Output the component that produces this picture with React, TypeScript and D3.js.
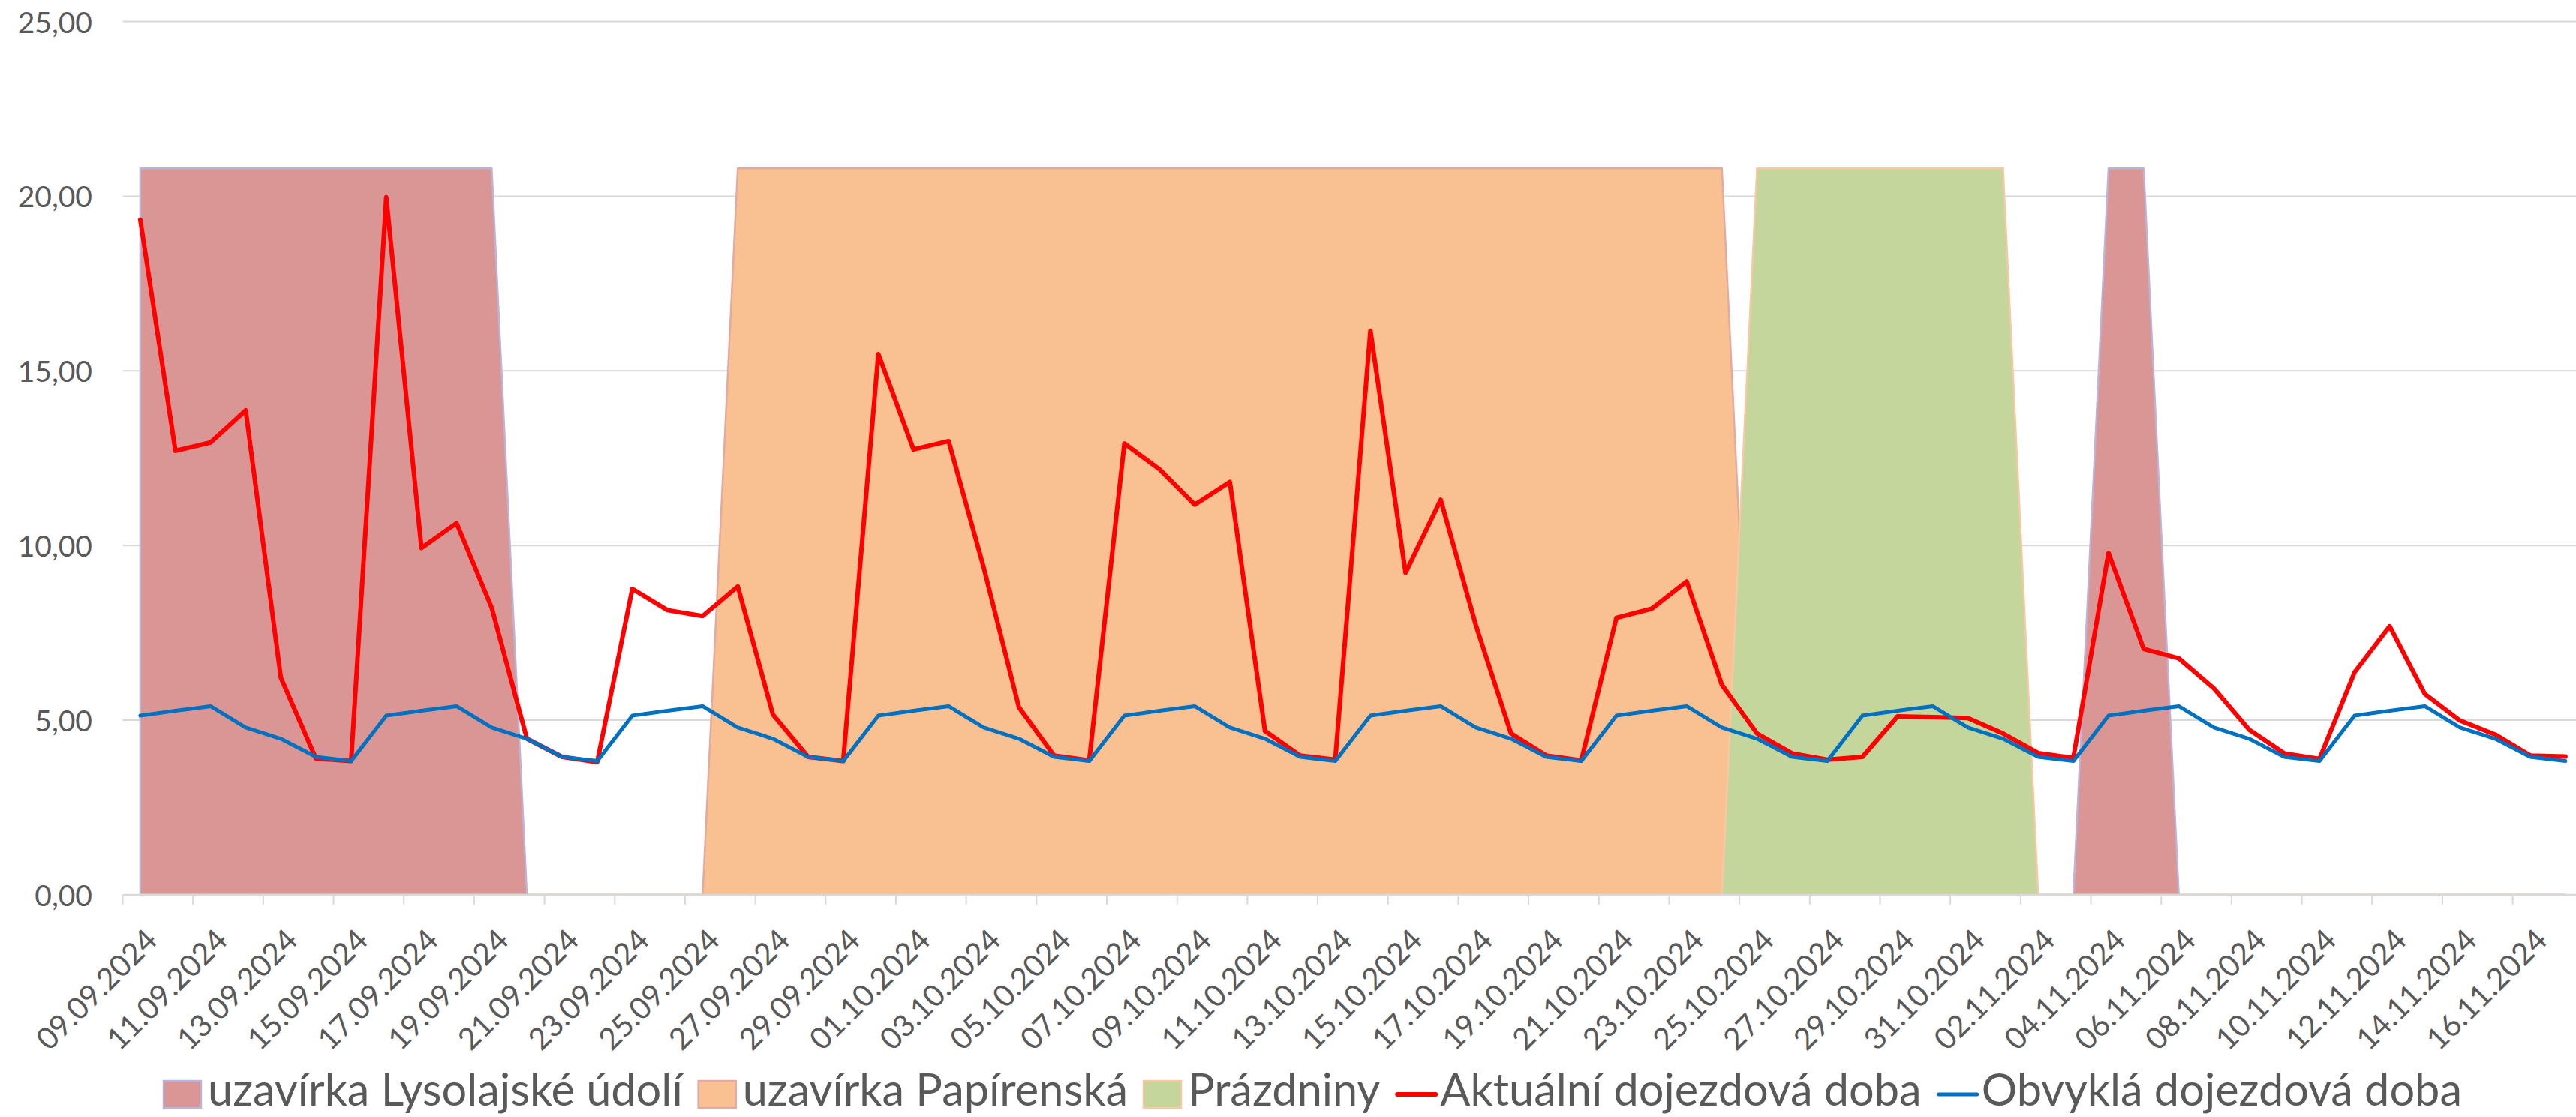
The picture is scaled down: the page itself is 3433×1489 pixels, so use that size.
import React, { useEffect, useRef } from "react"
import * as d3 from "d3"

// categories (one per day)
const DATES = [
    "09.09.2024", "10.09.2024", "11.09.2024", "12.09.2024", "13.09.2024", "14.09.2024", "15.09.2024",
    "16.09.2024", "17.09.2024", "18.09.2024", "19.09.2024", "20.09.2024", "21.09.2024", "22.09.2024",
    "23.09.2024", "24.09.2024", "25.09.2024", "26.09.2024", "27.09.2024", "28.09.2024", "29.09.2024",
    "30.09.2024", "01.10.2024", "02.10.2024", "03.10.2024", "04.10.2024", "05.10.2024", "06.10.2024",
    "07.10.2024", "08.10.2024", "09.10.2024", "10.10.2024", "11.10.2024", "12.10.2024", "13.10.2024",
    "14.10.2024", "15.10.2024", "16.10.2024", "17.10.2024", "18.10.2024", "19.10.2024", "20.10.2024",
    "21.10.2024", "22.10.2024", "23.10.2024", "24.10.2024", "25.10.2024", "26.10.2024", "27.10.2024",
    "28.10.2024", "29.10.2024", "30.10.2024", "31.10.2024", "01.11.2024", "02.11.2024", "03.11.2024",
    "04.11.2024", "05.11.2024", "06.11.2024", "07.11.2024", "08.11.2024", "09.11.2024", "10.11.2024",
    "11.11.2024", "12.11.2024", "13.11.2024", "14.11.2024", "15.11.2024", "16.11.2024", "17.11.2024",
]

const AKTUALNI = [
    19.33, 12.71, 12.95, 13.87, 6.22, 3.9, 3.83,
    19.97, 9.93, 10.64, 8.22, 4.47, 3.95, 3.8,
    8.76, 8.15, 7.98, 8.83, 5.16, 3.95, 3.83,
    15.48, 12.75, 12.99, 9.36, 5.37, 3.99, 3.85,
    12.92, 12.18, 11.17, 11.82, 4.69, 3.99, 3.87,
    16.15, 9.22, 11.31, 7.72, 4.62, 3.99, 3.85,
    7.93, 8.19, 8.97, 6.01, 4.62, 4.05, 3.87,
    3.95, 5.11, 5.09, 5.06, 4.62, 4.06, 3.92,
    9.79, 7.04, 6.77, 5.91, 4.73, 4.05, 3.89,
    6.37, 7.69, 5.75, 4.99, 4.59, 3.99, 3.96,
]

const OBVYKLA = [
    5.13, 5.27, 5.4, 4.79, 4.47, 3.95, 3.83,
    5.13, 5.27, 5.4, 4.79, 4.47, 3.95, 3.83,
    5.13, 5.27, 5.4, 4.79, 4.47, 3.95, 3.83,
    5.13, 5.27, 5.4, 4.79, 4.47, 3.95, 3.83,
    5.13, 5.27, 5.4, 4.79, 4.47, 3.95, 3.83,
    5.13, 5.27, 5.4, 4.79, 4.47, 3.95, 3.83,
    5.13, 5.27, 5.4, 4.79, 4.47, 3.95, 3.83,
    5.13, 5.27, 5.4, 4.79, 4.47, 3.95, 3.83,
    5.13, 5.27, 5.4, 4.79, 4.47, 3.95, 3.83,
    5.13, 5.27, 5.4, 4.79, 4.47, 3.95, 3.83,
]

const LYSOLAJSKE = [
    20.8, 20.8, 20.8, 20.8, 20.8, 20.8, 20.8,
    20.8, 20.8, 20.8, 20.8, 0, 0, 0,
    0, 0, 0, 0, 0, 0, 0,
    0, 0, 0, 0, 0, 0, 0,
    0, 0, 0, 0, 0, 0, 0,
    0, 0, 0, 0, 0, 0, 0,
    0, 0, 0, 0, 0, 0, 0,
    0, 0, 0, 0, 0, 0, 0,
    20.8, 20.8, 0, 0, 0, 0, 0,
    0, 0, 0, 0, 0, 0, 0,
]

const PAPIRENSKA = [
    0, 0, 0, 0, 0, 0, 0,
    0, 0, 0, 0, 0, 0, 0,
    0, 0, 0, 20.8, 20.8, 20.8, 20.8,
    20.8, 20.8, 20.8, 20.8, 20.8, 20.8, 20.8,
    20.8, 20.8, 20.8, 20.8, 20.8, 20.8, 20.8,
    20.8, 20.8, 20.8, 20.8, 20.8, 20.8, 20.8,
    20.8, 20.8, 20.8, 20.8, 0, 0, 0,
    0, 0, 0, 0, 0, 0, 0,
    0, 0, 0, 0, 0, 0, 0,
    0, 0, 0, 0, 0, 0, 0,
]

const PRAZDNINY = [
    0, 0, 0, 0, 0, 0, 0,
    0, 0, 0, 0, 0, 0, 0,
    0, 0, 0, 0, 0, 0, 0,
    0, 0, 0, 0, 0, 0, 0,
    0, 0, 0, 0, 0, 0, 0,
    0, 0, 0, 0, 0, 0, 0,
    0, 0, 0, 0, 20.8, 20.8, 20.8,
    20.8, 20.8, 20.8, 20.8, 20.8, 0, 0,
    0, 0, 0, 0, 0, 0, 0,
    0, 0, 0, 0, 0, 0, 0,
]

const Y_TICKS = [0, 5, 10, 15, 20, 25]

const AREAS = [
    { name: "uzavírka Lysolajské údolí", values: LYSOLAJSKE, fill: "#d99694", stroke: "#bcb3d8" },
    { name: "uzavírka Papírenská", values: PAPIRENSKA, fill: "#f9c091", stroke: "#e2aaa0" },
    { name: "Prázdniny", values: PRAZDNINY, fill: "#c4d69c", stroke: "#f6c9a2" },
]

const LINES = [
    { name: "Aktuální dojezdová doba", values: AKTUALNI, color: "#ff0000", width: 6 },
    { name: "Obvyklá dojezdová doba", values: OBVYKLA, color: "#0070c0", width: 5 },
]

const W = 3433
const H = 1489
const FONT = "Lato, 'Open Sans', sans-serif"
const TEXT = "#595959"

export default function App() {
    const ref = useRef<SVGSVGElement>(null)

    useEffect(() => {
        if (!ref.current) return
        const svg = d3.select(ref.current)
        svg.selectAll("*").remove()

        const left = 163.5
        const band = 46.84
        const x = d3
            .scaleBand()
            .domain(DATES)
            .range([left, left + band * DATES.length])
            .padding(0)
        const cx = (i: number) => (x(DATES[i]) as number) + x.bandwidth() / 2
        const y = d3.scaleLinear().domain([0, 25]).range([1193, 28.5])

        // horizontal gridlines
        svg.append("g")
            .selectAll("line")
            .data(Y_TICKS.filter((t) => t > 0))
            .join("line")
            .attr("x1", left)
            .attr("x2", W)
            .attr("y1", (d) => y(d))
            .attr("y2", (d) => y(d))
            .attr("stroke", "#d9d9d9")
            .attr("stroke-width", 2)

        // y labels
        svg.append("g")
            .selectAll("text")
            .data(Y_TICKS)
            .join("text")
            .attr("x", 123)
            .attr("y", (d) => y(d))
            .attr("text-anchor", "end")
            .attr("dominant-baseline", "central")
            .attr("font-family", FONT)
            .attr("font-size", 39)
            .attr("fill", TEXT)
            .text((d) => d3.format(".2f")(d).replace(".", ","))

        // area series (closures, holidays)
        const area = d3
            .area<number>()
            .x((_, i) => cx(i))
            .y0(y(0))
            .y1((d) => y(d))
        AREAS.forEach((s) => {
            svg.append("path")
                .datum(s.values)
                .attr("d", area)
                .attr("fill", s.fill)
                .attr("stroke", s.stroke)
                .attr("stroke-width", 2.5)
                .attr("stroke-linejoin", "round")
        })

        // x axis
        const axisY = y(0)
        svg.append("line")
            .attr("x1", left)
            .attr("x2", W)
            .attr("y1", axisY)
            .attr("y2", axisY)
            .attr("stroke", "#d9d9d9")
            .attr("stroke-width", 2.5)
        const tickIdx = d3.range(0, DATES.length, 2)
        svg.append("g")
            .selectAll("line")
            .data(tickIdx)
            .join("line")
            .attr("x1", (i) => x(DATES[i]) as number)
            .attr("x2", (i) => x(DATES[i]) as number)
            .attr("y1", axisY)
            .attr("y2", axisY + 13)
            .attr("stroke", "#d9d9d9")
            .attr("stroke-width", 2)
        svg.append("g")
            .selectAll("text")
            .data(tickIdx)
            .join("text")
            .attr("transform", (i) => `translate(${cx(i) + 14},1245) rotate(-45)`)
            .attr("text-anchor", "end")
            .attr("dominant-baseline", "central")
            .attr("font-family", FONT)
            .attr("font-size", 40.5)
            .attr("fill", TEXT)
            .text((i) => DATES[i])

        // travel time lines
        const line = d3
            .line<number>()
            .x((_, i) => cx(i))
            .y((d) => y(d))
        LINES.forEach((s) => {
            svg.append("path")
                .datum(s.values)
                .attr("d", line)
                .attr("fill", "none")
                .attr("stroke", s.color)
                .attr("stroke-width", s.width)
                .attr("stroke-linejoin", "round")
                .attr("stroke-linecap", "round")
        })

        // legend, laid out from measured text widths
        const baseY = 1474
        const markY = 1459
        const lg = svg.append("g")
        const items: { g: any; w: number }[] = []
        const addItem = (name: string, draw: (g: any) => void) => {
            const g = lg.append("g")
            draw(g)
            const t = g
                .append("text")
                .attr("x", 60)
                .attr("y", baseY)
                .attr("font-family", FONT)
                .attr("font-size", 59.5)
                .attr("fill", TEXT)
                .text(name)
            const tw = (t.node() as SVGTextElement).getComputedTextLength()
            items.push({ g, w: 60 + tw })
        }
        AREAS.forEach((s) =>
            addItem(s.name, (g) =>
                g
                    .append("rect")
                    .attr("x", 1)
                    .attr("y", markY - 18)
                    .attr("width", 50)
                    .attr("height", 36)
                    .attr("fill", s.fill)
                    .attr("stroke", s.stroke)
                    .attr("stroke-width", 2.5),
            ),
        )
        LINES.forEach((s) =>
            addItem(s.name, (g) =>
                g
                    .append("line")
                    .attr("x1", 3)
                    .attr("x2", 54)
                    .attr("y1", markY)
                    .attr("y2", markY)
                    .attr("stroke", s.color)
                    .attr("stroke-width", s.width)
                    .attr("stroke-linecap", "round"),
            ),
        )
        const gap = 20
        const total = d3.sum(items, (d) => d.w) + gap * (items.length - 1)
        let pos = 1749 - total / 2
        items.forEach((it) => {
            it.g.attr("transform", `translate(${pos},0)`)
            pos += it.w + gap
        })
    }, [])

    return (
        <div style={{ position: "fixed", left: 0, top: 0 }}>
            <svg ref={ref} width={W} height={H} style={{ display: "block", background: "#ffffff" }} />
        </div>
    )
}
